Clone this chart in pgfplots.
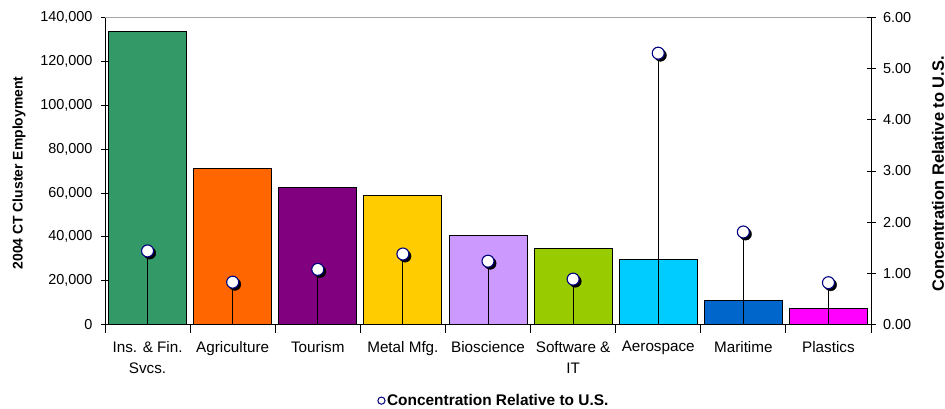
\documentclass[border=0pt]{standalone}
\usepackage{pgfplots}
\pgfplotsset{compat=1.18}
\usepackage{fontspec}
\setmainfont{Liberation Sans}
\definecolor{cInsFin}{HTML}{339966}
\definecolor{cAgri}{HTML}{FF6600}
\definecolor{cTour}{HTML}{800080}
\definecolor{cMetal}{HTML}{FFCC00}
\definecolor{cBio}{HTML}{CC99FF}
\definecolor{cSoft}{HTML}{99CC00}
\definecolor{cAero}{HTML}{00CCFF}
\definecolor{cMari}{HTML}{0066CC}
\definecolor{cPlast}{HTML}{FF00FF}
\definecolor{cNavy}{HTML}{000080}
\begin{document}
\begin{tikzpicture}
\pgfplotsset{
  base/.style={
    scale only axis, width=766bp, height=307.4bp,
    xmin=-0.5, xmax=8.5,
    tick label style={font=\fontsize{14.5}{17}\selectfont},
    axis line style={black, line width=0.8bp},
    tick style={black, line width=0.8bp},
    clip=false,
  },
}
\begin{axis}[base, name=ax,
  ymin=0, ymax=140000,
  scaled y ticks=false,
  ytick={0,20000,40000,60000,80000,100000,120000,140000},
  yticklabels={0,{20,000},{40,000},{60,000},{80,000},{100,000},{120,000},{140,000}},
  yticklabel style={xshift=-5bp},
  axis y line*=left, axis x line*=bottom,
  major tick length=8bp, tick align=center,
  ybar, bar width=78bp,
  every axis plot/.append style={bar shift=0pt, draw=black, line width=0.9bp},
  xtick={-0.5,0.5,1.5,2.5,3.5,4.5,5.5,6.5,7.5,8.5},
  xticklabels={{},{},{},{},{},{},{},{},{},{}},
  extra x ticks={0,1,2,3,4,5,6,7,8},
  extra x tick labels={{Ins. \& Fin.\\Svcs.},Agriculture,Tourism,Metal Mfg.,Bioscience,{Software \&\\IT},Aerospace,Maritime,Plastics},
  extra x tick style={major tick length=0pt,
    xticklabel style={align=center, font=\fontsize{15.3}{21.5}\selectfont, anchor=north, yshift=-13bp}},
]
\addplot[fill=cInsFin] coordinates {(0,133750)};
\addplot[fill=cAgri] coordinates {(1,71225)};
\addplot[fill=cTour] coordinates {(2,62570)};
\addplot[fill=cMetal] coordinates {(3,58750)};
\addplot[fill=cBio] coordinates {(4,40850)};
\addplot[fill=cSoft] coordinates {(5,34930)};
\addplot[fill=cAero] coordinates {(6,29780)};
\addplot[fill=cMari] coordinates {(7,11250)};
\addplot[fill=cPlast] coordinates {(8,7470)};
\draw[gray!70, line width=0.8bp] (rel axis cs:0,1) -- (rel axis cs:1,1);
\end{axis}
\begin{axis}[base,
  ymin=0, ymax=6,
  ytick={0,1,2,3,4,5,6},
  yticklabels={0.00,1.00,2.00,3.00,4.00,5.00,6.00},
  yticklabel style={xshift=4bp},
  axis y line*=right, axis x line=none,
  major tick length=9bp, tick align=center,
  legend style={at={(0.508,-0.247)}, anchor=center, draw=none, fill=none,
    font=\bfseries\fontsize{15.5}{18}\selectfont, inner sep=0pt},
  legend cell align=left,
]
\addplot[ycomb, black, line width=0.9bp, no marks, forget plot] coordinates {
(0,1.44) (1,0.83) (2,1.08) (3,1.38) (4,1.24) (5,0.89) (6,5.30) (7,1.81) (8,0.82)};
\addplot[only marks, mark=*, mark size=6bp, black, mark options={xshift=2.2bp, yshift=-2.2bp}, forget plot] coordinates {
(0,1.44) (1,0.83) (2,1.08) (3,1.38) (4,1.24) (5,0.89) (6,5.30) (7,1.81) (8,0.82)};
\addplot[only marks, mark=*, mark size=6bp, mark options={fill=white, draw=cNavy, line width=1.1bp}, forget plot] coordinates {
(0,1.44) (1,0.83) (2,1.08) (3,1.38) (4,1.24) (5,0.89) (6,5.30) (7,1.81) (8,0.82)};
\addlegendimage{only marks, mark=*, mark size=3.6bp, mark options={fill=white, draw=cNavy, line width=1bp}}
\addlegendentry{Concentration Relative to U.S.}
\end{axis}
\node[rotate=90, font=\bfseries\fontsize{14}{16}\selectfont] at ([xshift=-86bp, yshift=-2bp]ax.west) {2004 CT Cluster Employment};
\node[rotate=90, font=\bfseries\fontsize{16.5}{19}\selectfont] at ([xshift=67bp, yshift=-3bp]ax.east) {Concentration Relative to U.S.};
\pgfresetboundingbox
\path ([shift={(-105bp,-83.3bp)}]ax.south west) rectangle ([shift={(74bp,17.3bp)}]ax.north east);
\end{tikzpicture}
\end{document}
